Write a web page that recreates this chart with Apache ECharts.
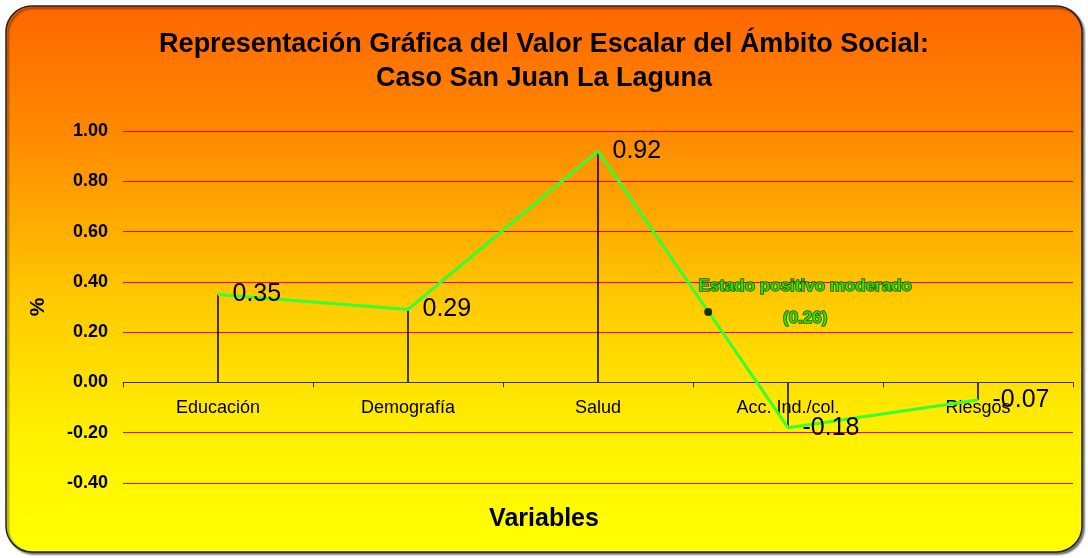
<!DOCTYPE html>
<html>
<head>
<meta charset="utf-8">
<script src="https://cdn.jsdelivr.net/npm/echarts@6/dist/echarts.min.js"></script>
<style>
  html, body { margin: 0; padding: 0; background: #fff; }
  #chart { width: 1088px; height: 558px; }
</style>
</head>
<body>
<div id="chart"></div>
<script>
  const categories = ['Educación', 'Demografía', 'Salud', 'Acc. Ind./col.', 'Riesgos']
  const values = [0.35, 0.29, 0.92, -0.18, -0.07]
  const yTicks = [-0.4, 1.0, 0.2]
  // punto del estado (posición sobre la escala de categorías, valor)
  const estadoPoint = [2.58, 0.28]
  const estadoLabel = 'Estado positivo moderado\n(0.26)'

  const font = '"Liberation Sans", Arial, sans-serif'
  let chart = echarts.init(document.getElementById('chart'))

  chart.setOption({
    backgroundColor: '#fff',
    animation: false,
    graphic: [{
      type: 'rect',
      z: -10,
      shape: { x: 6, y: 6, width: 1076, height: 546, r: 26 },
      style: {
        fill: new echarts.graphic.LinearGradient(0, 0, 0, 1, [
          { offset: 0, color: '#ff6600' },
          { offset: 0.25, color: '#ff8c00' },
          { offset: 0.55, color: '#ffcc00' },
          { offset: 0.8, color: '#fff200' },
          { offset: 1, color: '#ffff00' }
        ]),
        stroke: '#222',
        lineWidth: 1.5,
        shadowColor: 'rgba(0,0,0,0.5)',
        shadowBlur: 2,
        shadowOffsetX: 2,
        shadowOffsetY: 2
      }
    }],
    title: [{
      text: 'Representación Gráfica del Valor Escalar del Ámbito Social:\nCaso San Juan La Laguna',
      left: 'center',
      top: 28,
      padding: 0,
      textStyle: { fontFamily: font, fontSize: 27, fontWeight: 'bold', color: '#000', lineHeight: 34 }
    }, {
      text: 'Variables',
      left: 'center',
      top: 507,
      padding: 0,
      textStyle: { fontFamily: font, fontSize: 25, fontWeight: 'bold', color: '#000' }
    }],
    grid: { left: 123, right: 15, top: 131, bottom: 75 },
    xAxis: [{
      type: 'category',
      data: categories,
      position: 'bottom',
      boundaryGap: true,
      axisLine: { onZero: true, lineStyle: { color: '#333', width: 1 } },
      axisTick: { show: true, length: 5, lineStyle: { color: '#333' } },
      // las etiquetas se quedan en el borde de la rejilla, se suben hasta el cero
      axisLabel: { margin: -84, fontFamily: font, fontSize: 18, color: '#000' },
      splitLine: { show: false },
      z: 3
    }, {
      type: 'value',
      position: 'top',
      min: -0.5,
      max: 4.5,
      show: false
    }],
    yAxis: {
      type: 'value',
      min: yTicks[0],
      max: yTicks[1],
      interval: yTicks[2],
      name: '%',
      nameLocation: 'middle',
      nameRotate: 90,
      nameGap: 74,
      nameTextStyle: { fontFamily: font, fontSize: 21, fontWeight: 'bold', color: '#000' },
      axisLine: { show: false },
      axisTick: { show: false },
      axisLabel: {
        margin: 15,
        fontFamily: font,
        fontSize: 18,
        fontWeight: 'bold',
        color: '#000',
        formatter: v => v.toFixed(2)
      },
      splitLine: { lineStyle: { color: '#ff0000', width: 1 } }
    },
    series: [{
      // líneas de caída hasta el eje
      type: 'bar',
      data: values,
      barWidth: 1.5,
      itemStyle: { color: '#000' },
      silent: true,
      z: 2
    }, {
      type: 'line',
      data: values,
      symbol: 'circle',
      symbolSize: 1,
      itemStyle: { color: '#33ff33' },
      lineStyle: { color: '#33ff33', width: 3 },
      label: {
        show: true,
        position: 'right',
        distance: 14,
        fontFamily: font,
        fontSize: 25,
        color: '#000',
        formatter: p => p.value.toFixed(2)
      },
      z: 4
    }, {
      type: 'scatter',
      xAxisIndex: 1,
      data: [estadoPoint],
      symbol: 'circle',
      symbolSize: 8,
      itemStyle: { color: '#000' },
      label: {
        show: true,
        position: 'inside',
        offset: [97, -10],
        align: 'center',
        formatter: estadoLabel,
        fontFamily: font,
        fontSize: 17,
        fontWeight: 'bold',
        lineHeight: 32,
        color: '#00ff00',
        textBorderColor: '#0b2a05',
        textBorderWidth: 1.5
      },
      z: 5
    }]
  })
</script>
</body>
</html>
